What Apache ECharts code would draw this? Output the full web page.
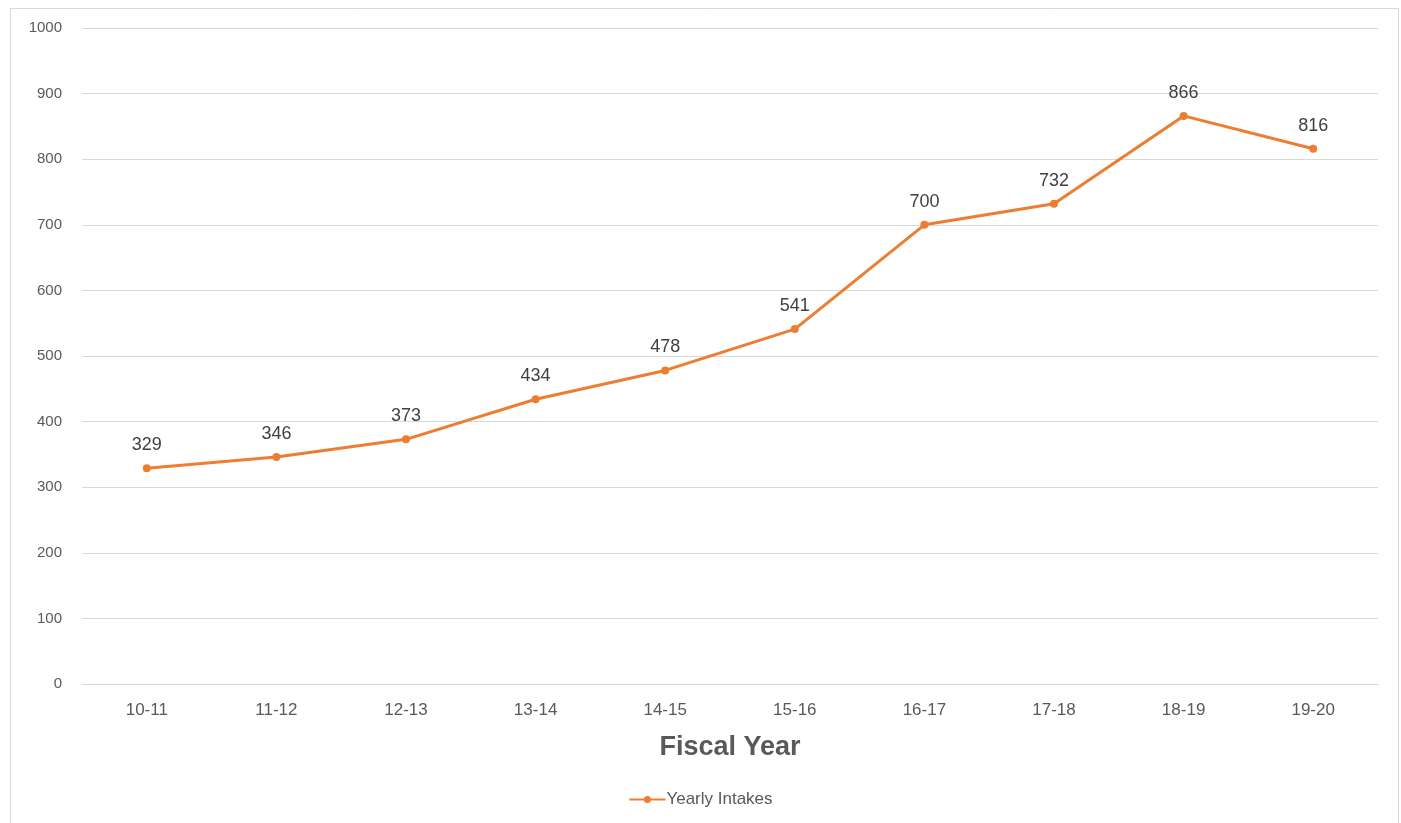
<!DOCTYPE html>
<html><head><meta charset="utf-8">
<script src="https://cdn.jsdelivr.net/npm/echarts@6/dist/echarts.min.js"></script>
<style>html,body{margin:0;padding:0;background:#fff}#c{width:1401px;height:823px}</style>
</head><body><div id="c"></div>
<script>
const categories = ['10-11','11-12','12-13','13-14','14-15','15-16','16-17','17-18','18-19','19-20'];
const yearlyIntakes = [329,346,373,434,478,541,700,732,866,816];
const seriesName = 'Yearly Intakes';
const xTitle = 'Fiscal Year';

const chart = echarts.init(document.getElementById('c'), null, {renderer:'canvas'});
const font = '"Liberation Sans", Arial, sans-serif';
chart.setOption({
  animation:false,
  backgroundColor:'#fff',
  graphic:[{type:'rect',shape:{x:10.5,y:8.5,width:1388,height:830},style:{fill:'none',stroke:'#d9d9d9',lineWidth:1},silent:true}],
  grid:{left:82,right:23,top:28,bottom:139,containLabel:false},
  xAxis:{
    type:'category',data:categories,boundaryGap:true,
    name:xTitle,nameLocation:'middle',nameGap:50,
    nameTextStyle:{fontFamily:font,fontSize:27,fontWeight:'bold',color:'#595959'},
    axisLine:{show:true,lineStyle:{color:'#d9d9d9',width:1}},
    axisTick:{show:false},
    axisLabel:{fontFamily:font,fontSize:17,color:'#595959',margin:18}
  },
  yAxis:{
    type:'value',min:0,max:1000,interval:100,
    axisLine:{show:false},axisTick:{show:false},
    splitLine:{lineStyle:{color:'#d9d9d9',width:1}},
    axisLabel:{fontFamily:font,fontSize:15,color:'#595959',margin:20,formatter:function(v){return String(v);}}
  },
  legend:{
    data:[seriesName],bottom:10,left:'center',itemWidth:36,itemHeight:9,itemGap:5,
    textStyle:{fontFamily:font,fontSize:17,color:'#595959',padding:[0,0,0,-4]}
  },
  series:[{
    name:seriesName,type:'line',data:yearlyIntakes,
    symbol:'circle',symbolSize:8,
    lineStyle:{color:'#ED7D31',width:3},
    itemStyle:{color:'#ED7D31'},
    label:{show:true,position:'top',distance:10,fontFamily:font,fontSize:18,color:'#404040'}
  }]
});
</script></body></html>
